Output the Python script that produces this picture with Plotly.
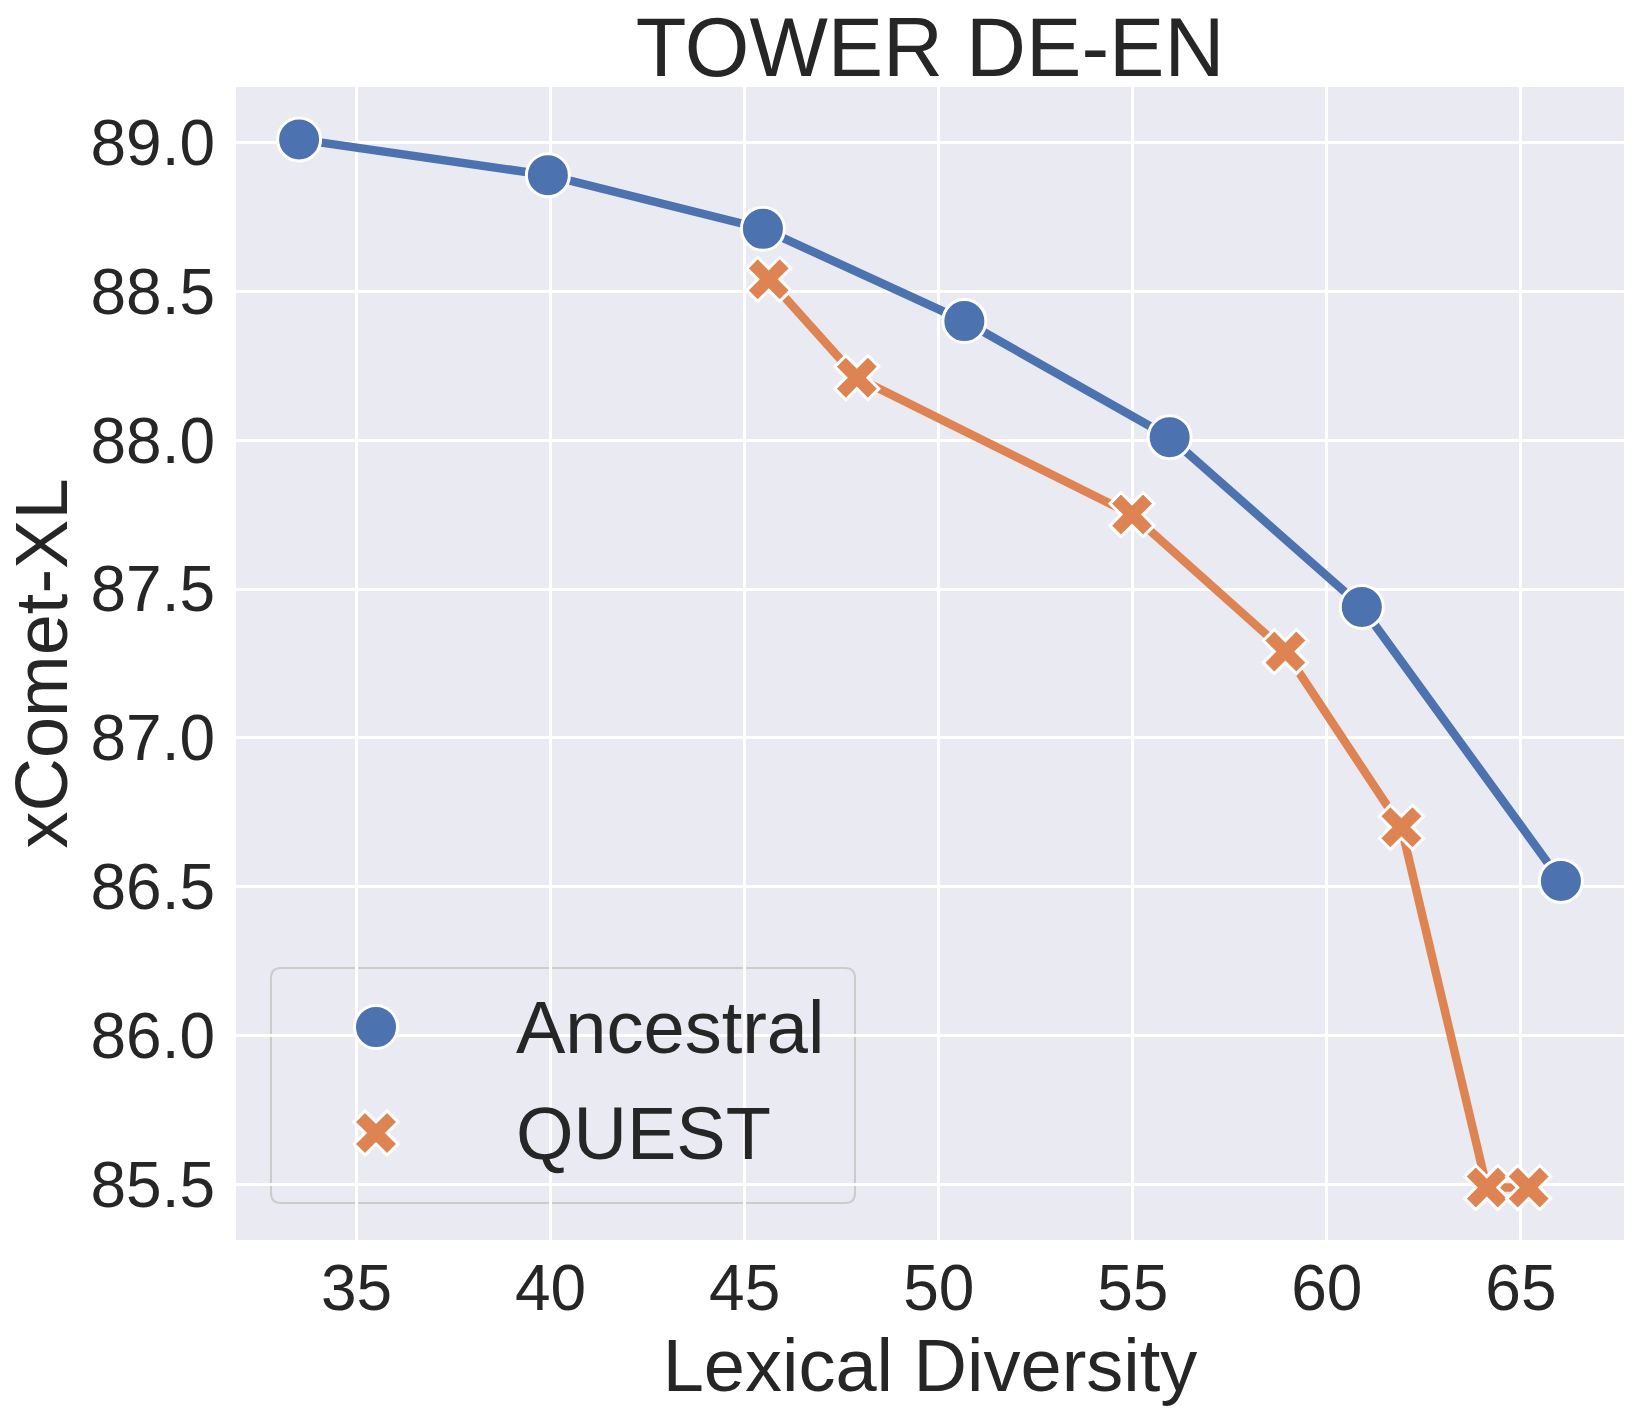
import plotly.graph_objects as go

# ---------------- data ----------------
series_names = ["Ancestral", "QUEST"]
ancestral_x = [33.52, 39.93, 45.47, 50.66, 55.95, 60.90, 66.03]
ancestral_y = [89.01, 88.89, 88.71, 88.40, 88.01, 87.44, 86.52]
quest_x = [45.62, 47.89, 54.98, 58.93, 61.92, 64.12, 65.20]
quest_y = [88.54, 88.21, 87.75, 87.29, 86.70, 85.49, 85.49]
x_ticks = [35, 40, 45, 50, 55, 60, 65]
y_ticks = [85.5, 86.0, 86.5, 87.0, 87.5, 88.0, 88.5, 89.0]
title_text = "TOWER DE-EN"
x_label = "Lexical Diversity"
y_label = "xComet-XL"

# ---------------- style ----------------
W, H = 1643, 1413
ML, MR, MT, MB = 236, 19, 87, 173
PW, PH = W - ML - MR, H - MT - MB
FONT = "Arial, Liberation Sans, sans-serif"
TXT = "#262626"
BLUE = "#4C72B0"
ORANGE = "#DD8452"
BG = "#EAEAF2"


def padded(vals, frac=0.05):
    lo, hi = min(vals), max(vals)
    span = hi - lo
    return [lo - frac * span, hi + frac * span]


x_range = padded(ancestral_x + quest_x)
y_range = padded(ancestral_y + quest_y)

circle_marker = dict(symbol="circle", size=43, color=BLUE,
                     line=dict(color="white", width=3))
x_marker = dict(symbol="x", size=39, color=ORANGE,
                line=dict(color="white", width=3))

fig = go.Figure()
fig.add_trace(go.Scatter(x=ancestral_x, y=ancestral_y, mode="lines+markers",
                         name=series_names[0], line=dict(color=BLUE, width=8.5),
                         marker=circle_marker, showlegend=False))
fig.add_trace(go.Scatter(x=quest_x, y=quest_y, mode="lines+markers",
                         name=series_names[1], line=dict(color=ORANGE, width=8.5),
                         marker=x_marker, showlegend=False))

# ---------------- custom legend (matplotlib-like, large keys) ----------------
def px_x(px):
    return (px - ML) / PW


def px_y(py):
    return (MT + PH - py) / PH


box_l, box_r, box_t, box_b = 271, 855, 968, 1203
rad = 10
key_x = 376
text_x = 514
row_y = [1027, 1133]

x0, x1 = px_x(box_l), px_x(box_r)
y0, y1 = px_y(box_b), px_y(box_t)
rx, ry = rad / PW, rad / PH
path = (f"M{x0+rx},{y0} L{x1-rx},{y0} Q{x1},{y0} {x1},{y0+ry} "
        f"L{x1},{y1-ry} Q{x1},{y1} {x1-rx},{y1} L{x0+rx},{y1} "
        f"Q{x0},{y1} {x0},{y1-ry} L{x0},{y0+ry} Q{x0},{y0} {x0+rx},{y0} Z")
fig.add_shape(type="path", path=path, xref="paper", yref="paper",
              fillcolor="rgba(234,234,242,0.8)", line=dict(color="#CCCCCC", width=2),
              layer="between")

for name, mk, ry_px in zip(series_names, [circle_marker, x_marker], row_y):
    fig.add_trace(go.Scatter(x=[px_x(key_x)], y=[px_y(ry_px)], mode="markers",
                             marker=mk, xaxis="x2", yaxis="y2",
                             showlegend=False, hoverinfo="skip"))
    fig.add_annotation(text=name, xref="paper", yref="paper", x=px_x(text_x),
                       y=px_y(ry_px), xanchor="left", yanchor="middle",
                       showarrow=False, font=dict(family=FONT, size=74, color=TXT))

fig.update_layout(
    width=W, height=H,
    margin=dict(l=ML, r=MR, t=MT, b=MB, pad=0),
    paper_bgcolor="white", plot_bgcolor=BG,
    font=dict(family=FONT, color=TXT),
    title=dict(text=title_text, x=0.5, xref="paper", xanchor="center",
               y=1 - 47 / H, yref="container", yanchor="middle",
               font=dict(family=FONT, size=83, color=TXT)),
    showlegend=False,
    xaxis=dict(range=x_range, tickvals=x_ticks, ticks="", showline=False,
               zeroline=False, gridcolor="white", gridwidth=2.5,
               tickfont=dict(family=FONT, size=64, color=TXT),
               ticklabelstandoff=5,
               title=dict(text=x_label, standoff=7,
                          font=dict(family=FONT, size=74, color=TXT))),
    yaxis=dict(range=y_range, tickvals=y_ticks, ticktext=[f"{v:.1f}" for v in y_ticks],
               ticks="", showline=False, zeroline=False, gridcolor="white",
               gridwidth=2.5, tickfont=dict(family=FONT, size=64, color=TXT),
               ticklabelstandoff=20,
               title=dict(text=y_label, standoff=14,
                          font=dict(family=FONT, size=74, color=TXT))),
    xaxis2=dict(range=[0, 1], overlaying="x", visible=False, fixedrange=True),
    yaxis2=dict(range=[0, 1], overlaying="y", visible=False, fixedrange=True),
)

fig.write_html("out.html", config={"displayModeBar": False},
               post_script="document.body.style.margin='0';")
